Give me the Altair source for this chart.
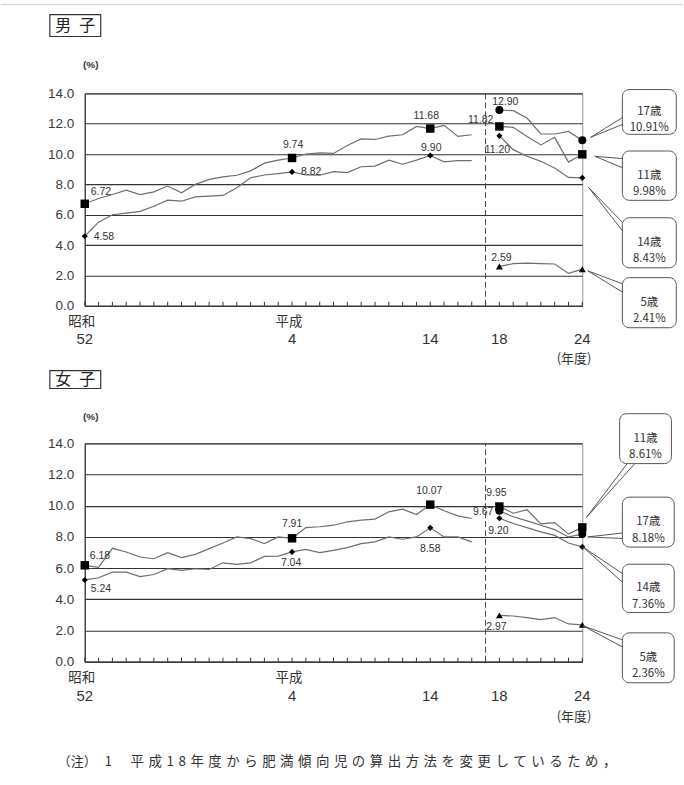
import altair as alt
import pandas as pd

# ---------------- data ----------------
OLD_YEARS = list(range(1977, 2006))
NEW_YEARS = list(range(2006, 2013))
MARK_YEARS = [1977, 1992, 2002, 2006, 2012]

boys_11_old = [6.72, 7.07, 7.33, 7.62, 7.33, 7.51, 7.89, 7.44, 8.00, 8.33, 8.49, 8.60, 8.89, 9.40, 9.60,
               9.74, 10.00, 10.07, 10.04, 10.56, 11.00, 10.96, 11.18, 11.27, 11.82, 11.68, 11.89, 11.16, 11.27]
boys_14_old = [4.58, 5.51, 6.00, 6.11, 6.22, 6.56, 6.96, 6.89, 7.18, 7.22, 7.27, 7.78, 8.44, 8.62, 8.71,
               8.82, 8.62, 8.60, 8.84, 8.78, 9.16, 9.20, 9.60, 9.33, 9.60, 9.90, 9.49, 9.56, 9.56]
boys_17_new = [12.90, 12.86, 12.37, 11.32, 11.32, 11.49, 10.91]
boys_11_new = [11.82, 11.76, 11.16, 10.60, 11.10, 9.47, 9.98]
boys_14_new = [11.20, 10.29, 9.85, 9.52, 9.08, 8.46, 8.43]
boys_5_new = [2.59, 2.77, 2.81, 2.77, 2.75, 2.13, 2.41]

girls_11_old = [6.18, 6.05, 7.27, 7.03, 6.71, 6.60, 6.99, 6.67, 6.88, 7.25, 7.61, 8.00, 7.89, 7.57, 8.00,
                7.91, 8.60, 8.65, 8.75, 8.97, 9.08, 9.14, 9.61, 9.78, 9.44, 10.07, 9.68, 9.35, 9.18]
girls_14_old = [5.24, 5.38, 5.74, 5.74, 5.46, 5.59, 5.96, 5.85, 5.96, 5.91, 6.34, 6.24, 6.34, 6.75, 6.77,
                7.04, 7.20, 6.99, 7.14, 7.31, 7.57, 7.68, 8.00, 7.85, 8.00, 8.58, 8.00, 8.00, 7.68]
girls_11_new = [9.95, 9.52, 9.74, 8.83, 8.92, 8.18, 8.61]
girls_17_new = [9.67, 9.29, 9.03, 8.75, 8.47, 8.00, 8.18]
girls_14_new = [9.20, 8.86, 8.60, 8.32, 8.10, 7.61, 7.36]
girls_5_new = [2.97, 2.93, 2.83, 2.70, 2.83, 2.42, 2.36]

x_tick_years = [1977, 1992, 2002, 2006, 2012]
x_tick_era = ["昭和", "平成", "", "", ""]
x_tick_num = ["52", "4", "14", "18", "24"]
y_ticks = [0, 2, 4, 6, 8, 10, 12, 14]

panel_titles = ["男\u2002子", "女\u2002子"]
unit_text = "(%)"
nendo_text = "(年度)"
note_head = "（注）"
note_num = "1"
note_body = "平成18年度から肥満傾向児の算出方法を変更しているため，"

# ---------------- helpers ----------------
NUM_FONT = "Liberation Sans Narrow, Arial Narrow, Liberation Sans, Arial, sans-serif"
JP_FONT = "Noto Sans CJK JP, sans-serif"
DARK = "#333333"
LINE = "#6e6e6e"
BREAK_POS = 29
W = 499

XS = alt.Scale(domain=[0, 36], nice=False, zero=False)
YS = alt.Scale(domain=[0, 14], nice=False, zero=False)
X_AXIS = alt.Axis(labels=False, ticks=False, grid=False, domainColor=DARK, domainWidth=1.2, title=None)
Y_AXIS = alt.Axis(values=y_ticks, format=".1f", grid=True, gridColor=DARK, gridWidth=1.1,
                  ticks=False, domainColor=DARK, domainWidth=1.2, labelPadding=11,
                  labelFont=NUM_FONT, labelFontSize=13.5, labelColor="#3a3a3a", title=None)


def pos_of(year):
    return year - 1977 + (1 if year >= 2006 else 0)


def xd(v):
    return alt.XDatum(v, type="quantitative", scale=XS, axis=X_AXIS)


def yd(v):
    return alt.YDatum(v, type="quantitative", scale=YS, axis=Y_AXIS)


def xf(f):
    return alt.X(f"{f}:Q", scale=XS, axis=X_AXIS)


def yf(f):
    return alt.Y(f"{f}:Q", scale=YS, axis=Y_AXIS)


def series_frame(series):
    rows = []
    for age, seg, years, vals in series:
        for y, v in zip(years, vals):
            rows.append({"pos": pos_of(y), "year": y, "value": v, "age": age, "key": age + seg})
    return pd.DataFrame(rows)


SHAPES = [("11", "square", 72), ("14", "diamond", 38), ("17", "circle", 64), ("5", "triangle-up", 48)]


def panel(title, series, labels, callouts, height, g):
    df = series_frame(series)
    base = alt.Chart(df)
    layers = []
    tick_len = 4 * 14 / height

    lines = base.mark_line(color=LINE, strokeWidth=1.2).encode(
        x=xf("pos"), y=yf("value"), detail="key:N")
    layers.append(lines)

    # inward ticks on x axis
    ticks = alt.Chart(pd.DataFrame({"pos": list(range(37))})).mark_rule(
        color=DARK, strokeWidth=1).encode(x=xf("pos"), y=yd(0), y2=alt.Y2Datum(tick_len))
    layers.append(ticks)

    # method-change break
    brk = alt.Chart(pd.DataFrame({"pos": [BREAK_POS]})).mark_rule(
        color="#444", strokeDash=[6, 3], strokeWidth=1).encode(x=xf("pos"), y=yd(0), y2=alt.Y2Datum(14))
    layers.append(brk)

    # markers
    for age, shape, size in SHAPES:
        m = base.transform_filter(
            f"datum.age == '{age}' && indexof({MARK_YEARS}, datum.year) >= 0"
        ).mark_point(shape=shape, size=size, filled=True, color="#000", opacity=1).encode(
            x=xf("pos"), y=yf("value"))
        layers.append(m)

    # value labels
    for age, year, dx, dy, align in labels:
        t = base.transform_filter(f"datum.age == '{age}' && datum.year == {year}").mark_text(
            dx=dx, dy=dy, align=align, baseline="middle", font=NUM_FONT, fontSize=10.5,
            color="#333").encode(x=xf("pos"), y=yf("value"), text=alt.Text("value:Q", format=".2f"))
        layers.append(t)

    # x tick labels
    xl = pd.DataFrame({"pos": [pos_of(y) for y in x_tick_years], "era": x_tick_era, "num": x_tick_num})
    layers.append(alt.Chart(xl).mark_text(dy=g["era_dy"], dx=-3, font=JP_FONT, fontSize=13.5,
                                          color="#333", baseline="middle").encode(
        x=xf("pos"), y=yd(0), text="era:N"))
    layers.append(alt.Chart(xl).mark_text(dy=g["num_dy"], font=NUM_FONT, fontSize=15,
                                          color="#333", baseline="middle").encode(
        x=xf("pos"), y=yd(0), text="num:N"))
    layers.append(alt.Chart(pd.DataFrame({"t": [nendo_text]})).mark_text(
        dy=g["nendo_dy"], font=JP_FONT, fontSize=13, color="#333", baseline="middle").encode(
        x=xd(35.4), y=yd(0), text="t:N"))

    # unit and title box
    layers.append(alt.Chart(pd.DataFrame({"t": [unit_text]})).mark_text(
        dx=6, dy=g["unit_dy"], font=NUM_FONT, fontSize=10, fontWeight="bold", color="#333",
        baseline="middle").encode(x=xd(0), y=yd(14), text="t:N"))
    layers.append(alt.Chart(pd.DataFrame({"t": [title]})).mark_rect(
        fill="white", stroke="#333", strokeWidth=1.2, xOffset=-35, x2Offset=16,
        yOffset=g["box_top"], y2Offset=g["box_bot"]).encode(
        x=xd(0), x2=alt.X2Datum(0), y=yd(14), y2=alt.Y2Datum(14)))
    layers.append(alt.Chart(pd.DataFrame({"t": [title]})).mark_text(
        dx=-9.5, dy=g["title_dy"], font=JP_FONT, fontSize=16, color="#222", baseline="middle").encode(
        x=xd(0), y=yd(14), text="t:N"))

    # callouts
    ends = {age: vals[-1] for age, seg, years, vals in series if seg == "new"}
    crow = []
    for age, x1, x2, y1, y2, tx, ty, ax, ay, bx, by in callouts:
        crow.append({"x1": x1, "x2": x2, "y1": y1, "y2": y2, "cx": (x1 + x2) / 2, "cy": (y1 + y2) / 2,
                     "tx": tx, "ty": ty, "ax": ax, "ay": ay, "bx": bx, "by": by,
                     "txt": f"{age}歳\n{ends[age]:.2f}%"})
    cdf = alt.Chart(pd.DataFrame(crow))
    layers.append(cdf.mark_rule(color="#555", strokeWidth=1).encode(
        x=xf("tx"), y=yf("ty"), x2="ax:Q", y2="ay:Q"))
    layers.append(cdf.mark_rule(color="#555", strokeWidth=1).encode(
        x=xf("tx"), y=yf("ty"), x2="bx:Q", y2="by:Q"))
    layers.append(cdf.mark_rect(fill="white", stroke="#555", strokeWidth=1, cornerRadius=7).encode(
        x=xf("x1"), x2="x2:Q", y=yf("y1"), y2="y2:Q"))
    layers.append(cdf.mark_text(font=JP_FONT, fontSize=11.5, lineBreak="\n", lineHeight=16.5,
                                color="#333", baseline="middle").encode(
        x=xf("cx"), y=yf("cy"), text="txt:N"))

    if g.get("page_rule"):
        px = W / 36
        layers.append(alt.Chart(pd.DataFrame({"a": [0]})).mark_rule(
            color="#d4d4d4", strokeWidth=1, yOffset=-89).encode(
            x=xd(-84 / px), x2=alt.X2Datum(600 / px), y=yd(14)))

    if g.get("footnote"):
        spaced = "\u2004".join(note_body)
        for txt, dx, fs in [(note_head, -27, 13), (note_num, 20, 13), (spaced, 46, 13.5)]:
            layers.append(alt.Chart(pd.DataFrame({"t": [txt]})).mark_text(
                dx=dx, dy=101, align="left", font=JP_FONT, fontSize=fs, color="#333",
                baseline="middle").encode(x=xd(0), y=yd(0), text="t:N"))

    return alt.layer(*layers).properties(width=W, height=height)


boys_series = [
    ("11", "old", OLD_YEARS, boys_11_old), ("14", "old", OLD_YEARS, boys_14_old),
    ("17", "new", NEW_YEARS, boys_17_new), ("11", "new", NEW_YEARS, boys_11_new),
    ("14", "new", NEW_YEARS, boys_14_new), ("5", "new", NEW_YEARS, boys_5_new),
]
girls_series = [
    ("11", "old", OLD_YEARS, girls_11_old), ("14", "old", OLD_YEARS, girls_14_old),
    ("11", "new", NEW_YEARS, girls_11_new), ("17", "new", NEW_YEARS, girls_17_new),
    ("14", "new", NEW_YEARS, girls_14_new), ("5", "new", NEW_YEARS, girls_5_new),
]

boys_labels = [
    ("11", 1977, 6, -12, "left"), ("14", 1977, 9, 1, "left"),
    ("11", 1992, 1, -13.5, "center"), ("14", 1992, 9, 0, "left"),
    ("11", 2002, -4, -13, "center"), ("14", 2002, 1, -8, "center"),
    ("17", 2006, 6, -8, "center"), ("11", 2006, -6, -6, "right"),
    ("14", 2006, -2, 14, "center"), ("5", 2006, 2, -8, "center"),
]
girls_labels = [
    ("11", 1977, 5, -9, "left"), ("14", 1977, 6, 9, "left"),
    ("11", 1992, 0, -14, "center"), ("14", 1992, -1, 11, "center"),
    ("11", 2002, -1, -14, "center"), ("14", 2002, 0, 21, "center"),
    ("11", 2006, -3, -14, "center"), ("17", 2006, -6, 1, "right"),
    ("14", 2006, -1, 13, "center"), ("5", 2006, -3, 12, "center"),
]

boys_callouts = [
    ("17", 38.9, 42.8, 14.25, 11.3, 36.6, 11.1, 38.9, 12.4, 38.9, 11.95),
    ("11", 38.9, 42.8, 10.2, 6.95, 36.9, 9.85, 38.9, 9.7, 38.9, 9.1),
    ("14", 38.9, 42.8, 5.8, 2.5, 36.45, 7.8, 38.9, 5.5, 38.9, 4.95),
    ("5", 38.9, 42.8, 1.85, -1.45, 36.4, 2.3, 38.9, 1.45, 38.9, 0.9),
]
girls_callouts = [
    ("11", 38.7, 42.45, 15.9, 12.7, 36.3, 9.25, 39.25, 12.7, 39.8, 12.7),
    ("17", 38.9, 42.65, 10.55, 7.35, 36.4, 8.0, 38.9, 8.25, 38.9, 7.9),
    ("14", 38.9, 42.65, 6.25, 3.15, 36.05, 7.35, 38.9, 5.65, 38.9, 5.1),
    ("5", 38.9, 42.65, 1.85, -1.35, 36.05, 2.3, 38.9, 1.4, 38.9, 0.95),
]

top = panel(panel_titles[0], boys_series, boys_labels, boys_callouts, 213,
            {"era_dy": 16, "num_dy": 33, "nendo_dy": 53, "unit_dy": -28,
             "box_top": -79, "box_bot": -57, "title_dy": -68, "page_rule": True})
bottom = panel(panel_titles[1], girls_series, girls_labels, girls_callouts, 219,
               {"era_dy": 16, "num_dy": 34.5, "nendo_dy": 55, "unit_dy": -26,
                "box_top": -73, "box_bot": -55, "title_dy": -64, "footnote": True})

chart = alt.vconcat(top, bottom, spacing=138, bounds="flush").properties(
    padding={"left": 0, "top": 2.5, "right": 0, "bottom": 0},
    background="white",
).configure_view(stroke="#9a9a9a", strokeWidth=1)

chart.save("out.html", embed_options={"renderer": "svg", "actions": False})
